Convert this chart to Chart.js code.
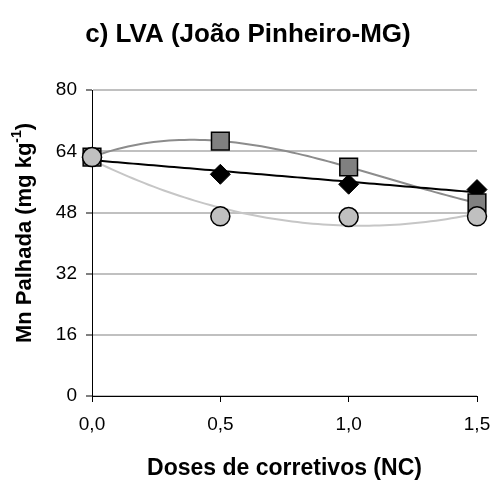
<!DOCTYPE html>
<html>
<head>
<meta charset="utf-8">
<script src="https://cdn.jsdelivr.net/npm/chart.js@4.4.1/dist/chart.umd.min.js"></script>
<style>
  html, body { margin: 0; padding: 0; background: #fff; }
  #wrap { width: 496px; height: 483px; }
</style>
</head>
<body>
<div id="wrap"><canvas id="chart" width="496" height="483"></canvas></div>
<script>
// valores
const doses = [0, 0.5, 1.0, 1.5];
const mnQuadrado = [62.5, 66.7, 59.9, 50.5];
const mnLosango = [62.5, 58.0, 55.4, 54.0];
const mnCirculo = [62.5, 47.0, 46.8, 47.0];
const yTicks = [0, 16, 32, 48, 64, 80];
const xTicks = [0, 0.5, 1.0, 1.5];

const FONT = '"Liberation Sans", Arial, sans-serif';

// linha de tendencia polinomial (minimos quadrados), como no Excel
function polyfit(xs, ys, order) {
  const n = order + 1;
  const A = [], b = [];
  for (let i = 0; i < n; i++) {
    A.push([]);
    for (let j = 0; j < n; j++) A[i].push(xs.reduce((s, x) => s + Math.pow(x, i + j), 0));
    b.push(xs.reduce((s, x, k) => s + ys[k] * Math.pow(x, i), 0));
  }
  for (let i = 0; i < n; i++) {
    let p = i;
    for (let r = i + 1; r < n; r++) if (Math.abs(A[r][i]) > Math.abs(A[p][i])) p = r;
    [A[i], A[p]] = [A[p], A[i]];
    [b[i], b[p]] = [b[p], b[i]];
    for (let r = i + 1; r < n; r++) {
      const f = A[r][i] / A[i][i];
      for (let c = i; c < n; c++) A[r][c] -= f * A[i][c];
      b[r] -= f * b[i];
    }
  }
  const coef = new Array(n).fill(0);
  for (let i = n - 1; i >= 0; i--) {
    let s = b[i];
    for (let c = i + 1; c < n; c++) s -= A[i][c] * coef[c];
    coef[i] = s / A[i][i];
  }
  return coef;
}

function trend(ys, order) {
  const c = polyfit(doses, ys, order);
  const pts = [];
  for (let i = 0; i <= 75; i++) {
    const x = 1.5 * i / 75;
    pts.push({ x: x, y: c.reduce((s, a, k) => s + a * Math.pow(x, k), 0) });
  }
  return pts;
}

const pontos = ys => doses.map((d, i) => ({ x: d, y: ys[i] }));

// titulo do eixo y com sobrescrito
const yTitlePlugin = {
  id: 'yTitle',
  afterDraw(chart) {
    const ctx = chart.ctx;
    const main = 'Mn Palhada (mg kg';
    const sup = '-1';
    const end = ')';
    ctx.save();
    ctx.translate(25, 233);
    ctx.rotate(-Math.PI / 2);
    ctx.fillStyle = '#000';
    ctx.textBaseline = 'middle';
    ctx.font = 'bold 22px ' + FONT;
    const w1 = ctx.measureText(main).width;
    const w3 = ctx.measureText(end).width;
    ctx.font = 'bold 14px ' + FONT;
    const w2 = ctx.measureText(sup).width;
    let x = -(w1 + w2 + w3) / 2;
    ctx.font = 'bold 22px ' + FONT;
    ctx.fillText(main, x, 0);
    x += w1;
    ctx.font = 'bold 14px ' + FONT;
    ctx.fillText(sup, x, -8);
    x += w2;
    ctx.font = 'bold 22px ' + FONT;
    ctx.fillText(end, x, 0);
    ctx.restore();
  }
};

new Chart(document.getElementById('chart'), {
  type: 'scatter',
  data: {
    datasets: [
      { data: trend(mnQuadrado, 3), showLine: true, borderColor: '#8c8c8c', borderWidth: 2, pointRadius: 0, order: 12 },
      { data: trend(mnLosango, 1), showLine: true, borderColor: '#000', borderWidth: 2, pointRadius: 0, order: 11 },
      { data: trend(mnCirculo, 2), showLine: true, borderColor: '#c6c6c6', borderWidth: 2, pointRadius: 0, order: 10 },
      { data: pontos(mnLosango), pointStyle: 'rectRot', pointRadius: 10, backgroundColor: '#000', borderColor: '#000', borderWidth: 1, order: 3 },
      { data: pontos(mnQuadrado), pointStyle: 'rect', pointRadius: 12.5, backgroundColor: '#808080', borderColor: '#000', borderWidth: 1.5, order: 2 },
      { data: pontos(mnCirculo), pointStyle: 'circle', pointRadius: 9.5, backgroundColor: '#c0c0c0', borderColor: '#000', borderWidth: 1.5, order: 1 }
    ]
  },
  options: {
    responsive: false,
    animation: false,
    clip: false,
    layout: { padding: 0 },
    plugins: {
      legend: { display: false },
      tooltip: { enabled: false },
      title: {
        display: true,
        text: 'c) LVA (João Pinheiro-MG)',
        color: '#000',
        font: { family: FONT, size: 26, weight: 'bold' },
        padding: { top: 19, bottom: 40 }
      }
    },
    scales: {
      x: {
        type: 'linear',
        min: 0,
        max: 1.5,
        afterBuildTicks: s => { s.ticks = xTicks.map(v => ({ value: v })); },
        afterFit: s => {
          s.height = 87;
          s.paddingLeft = 0;
          s.paddingRight = 19;
        },
        ticks: {
          color: '#000',
          font: { family: FONT, size: 19 },
          padding: 11,
          callback: v => v.toFixed(1).replace('.', ',')
        },
        grid: { drawOnChartArea: false, tickColor: '#000', tickLength: 6, tickWidth: 1 },
        border: { color: '#000', width: 1 },
        title: {
          display: true,
          text: 'Doses de corretivos (NC)',
          color: '#000',
          font: { family: FONT, size: 23, weight: 'bold' },
          padding: { top: 0, bottom: 1 }
        }
      },
      y: {
        min: 0,
        max: 80,
        afterBuildTicks: s => { s.ticks = yTicks.map(v => ({ value: v })); },
        afterFit: s => { s.width = 92; },
        ticks: {
          color: '#000',
          font: { family: FONT, size: 19 },
          padding: 9
        },
        grid: { color: '#c0c0c0', lineWidth: 2, tickColor: '#000', tickLength: 6, tickWidth: 1 },
        border: { color: '#000', width: 1 }
      }
    }
  },
  plugins: [yTitlePlugin]
});
</script>
</body>
</html>
